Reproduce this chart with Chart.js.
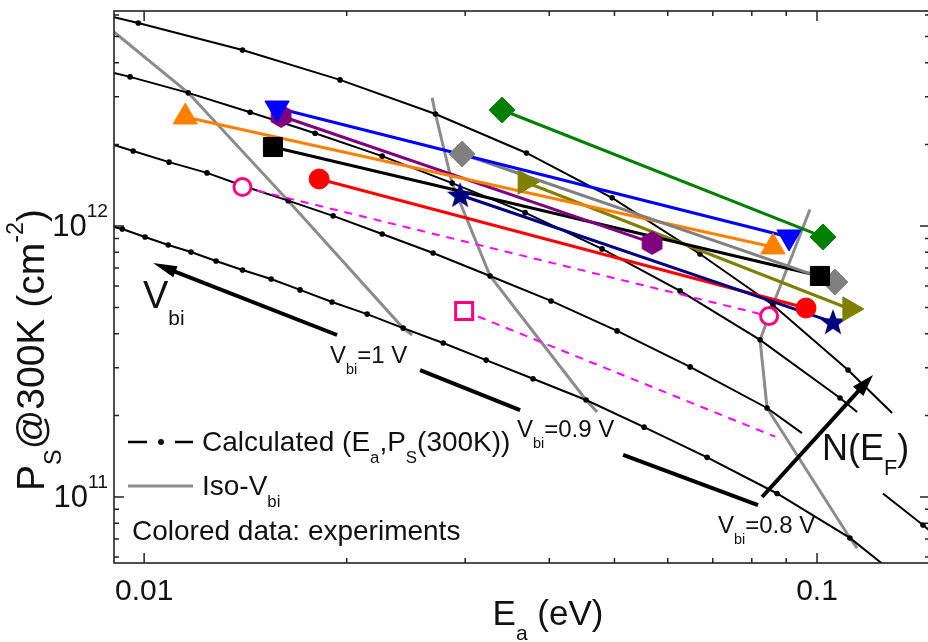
<!DOCTYPE html>
<html>
<head>
<meta charset="utf-8">
<script src="https://cdn.jsdelivr.net/npm/chart.js@4.4.1/dist/chart.umd.min.js"></script>
<style>
  html, body { margin: 0; padding: 0; background: #fff; overflow: hidden; }
  #wrap { width: 928px; height: 642px; overflow: hidden; }
</style>
</head>
<body>
<div id="wrap"><canvas id="chart" width="931" height="642"></canvas></div>
<script>
// axis ranges and tick labels
const eaRange = [0.00902, 0.1472];
const psRange = [5.706e10, 6.214e12];
const eaMajor = [0.01, 0.1];
const eaMajorLabels = ["0.01", "0.1"];
const psMajor = [1e11, 1e12];
const psMajorExp = ["11", "12"];

// calculated (Ea, Ps(300K)) curves
const calcA_Ea = [0.00902, 0.00980, 0.0140, 0.01955, 0.0271, 0.0370, 0.0496, 0.0670, 0.0860, 0.1112, 0.1293];
const calcA_Ps = [5.90e12, 5.61e12, 4.46e12, 3.46e12, 2.59e12, 1.86e12, 1.27e12, 7.88e11, 5.11e11, 2.94e11, 2.04e11];
const calcB_Ea = [0.00902, 0.00953, 0.01163, 0.01437, 0.01795, 0.02258, 0.02869, 0.03683, 0.04792, 0.06258, 0.08229, 0.1082, 0.1147];
const calcB_Ps = [3.67e12, 3.55e12, 3.10e12, 2.63e12, 2.20e12, 1.81e12, 1.44e12, 1.12e12, 8.23e11, 5.76e11, 3.80e11, 2.32e11, 2.06e11];
const calcC_Ea = [0.00902, 0.00963, 0.01089, 0.01240, 0.01422, 0.01637, 0.01909, 0.02258, 0.02688, 0.03267, 0.04025, 0.05045, 0.06477, 0.08428, 0.0950];
const calcC_Ps = [1.99e12, 1.89e12, 1.72e12, 1.57e12, 1.39e12, 1.24e12, 1.09e12, 9.34e11, 7.95e11, 6.54e11, 5.29e11, 4.10e11, 3.02e11, 2.13e11, 1.72e11];
const calcD_Ea = [0.00902, 0.00928, 0.01003, 0.01086, 0.01174, 0.01279, 0.0140, 0.01544, 0.01705, 0.01902, 0.02145, 0.02426, 0.02782, 0.03223, 0.03784, 0.04537, 0.05534, 0.06865, 0.08722, 0.1119, 0.1284];
const calcD_Ps = [9.92e11, 9.75e11, 9.11e11, 8.51e11, 8.02e11, 7.43e11, 6.88e11, 6.37e11, 5.81e11, 5.24e11, 4.73e11, 4.20e11, 3.70e11, 3.20e11, 2.73e11, 2.28e11, 1.81e11, 1.40e11, 1.03e11, 7.06e10, 5.38e10];
const calcE_Ea = [0.1253, 0.1437, 0.1497];
const calcE_Ps = [1.03e11, 7.88e10, 7.24e10];

// iso-Vbi lines
const iso1_Ea = [0.00902, 0.01163, 0.01637, 0.02426, 0.02502];
const iso1_Ps = [5.20e12, 3.10e12, 1.24e12, 4.20e11, 3.96e11];
const iso2_Ea = [0.02679, 0.0271, 0.02869, 0.03267, 0.04537, 0.04711];
const iso2_Ps = [2.97e12, 2.59e12, 1.44e12, 6.54e11, 2.28e11, 2.06e11];
const iso3_Ea = [0.0976, 0.0860, 0.08229, 0.08428, 0.1119, 0.1147];
const iso3_Ps = [1.15e12, 5.11e11, 3.80e11, 2.13e11, 7.06e10, 6.48e10];

// experiments: [Ea, Ps] start and end
const expOrange = [[0.01151, 2.525e12], [0.0860, 8.37e11]];
const expBlue = [[0.01576, 2.725e12], [0.09087, 9.11e11]];
const expPurple = [[0.01598, 2.547e12], [0.05687, 8.66e11]];
const expBlack = [[0.01554, 1.957e12], [0.1010, 6.54e11]];
const expRed = [[0.01820, 1.491e12], [0.09631, 4.98e11]];
const expPinkCircle = [[0.0140, 1.393e12], [0.08487, 4.65e11]];
const expGreen = [[0.03404, 2.679e12], [0.1021, 9.11e11]];
const expGray = [[0.02969, 1.843e12], [0.1063, 6.21e11]];
const expOlive = [[0.03683, 1.453e12], [0.1119, 4.94e11]];
const expNavy = [[0.02949, 1.301e12], [0.1056, 4.42e11]];
const expPinkSquare = [[0.02989, 4.86e11], [0.08662, 1.67e11]];

// arrows (data coords)
const vbiArrow = [[0.01935, 3.96e11], [0.01031, 7.30e11]];
const vbiSegs = [[[0.02571, 2.94e11], [0.03620, 2.09e11]], [[0.05150, 1.43e11], [0.08172, 9.34e10]]];
const nefArrow = [[0.08286, 1.0e11], [0.1211, 2.82e11]];

const FONT = "'Liberation Sans', Arial, sans-serif";

function pts(ea, ps) {
  return ea.map((x, i) => ({ x: x, y: ps[i] }));
}
function pairPts(p) {
  return p.map(v => ({ x: v[0], y: v[1] }));
}

function calcSet(ea, ps) {
  return {
    data: pts(ea, ps),
    showLine: true,
    borderColor: "#000",
    borderWidth: 2,
    pointRadius: ea.map((v, i) => (i === 0 || i === ea.length - 1) ? 0 : 2.8),
    pointBackgroundColor: "#000",
    pointBorderWidth: 0,
    order: 2
  };
}
function isoSet(ea, ps) {
  return {
    data: pts(ea, ps),
    showLine: true,
    borderColor: "#8c8c8c",
    borderWidth: 3,
    pointRadius: 0,
    order: 3
  };
}
function expLine(p, color, dashed) {
  return {
    data: pairPts(p),
    showLine: true,
    borderColor: color,
    borderWidth: dashed ? 2 : 3,
    borderDash: dashed ? [8, 7] : [],
    pointRadius: 0,
    order: 1
  };
}
function expMarks(p, style, r, color, extra) {
  return Object.assign({
    data: pairPts(p),
    showLine: false,
    pointStyle: style,
    pointRadius: r,
    pointRotation: 0,
    pointBackgroundColor: color,
    pointBorderColor: color,
    pointBorderWidth: 1,
    order: 0
  }, extra || {});
}

function hexagon(color) {
  const c = document.createElement("canvas");
  c.width = 26; c.height = 26;
  const g = c.getContext("2d");
  g.fillStyle = color;
  g.beginPath();
  for (let k = 0; k < 6; k++) {
    const a = -Math.PI / 2 + k * Math.PI / 3;
    g.lineTo(13 + 12 * Math.cos(a), 13 + 12 * Math.sin(a));
  }
  g.closePath();
  g.fill();
  return c;
}
function star(color) {
  const c = document.createElement("canvas");
  c.width = 30; c.height = 30;
  const g = c.getContext("2d");
  g.fillStyle = color;
  g.beginPath();
  for (let k = 0; k < 10; k++) {
    const a = -Math.PI / 2 + k * Math.PI / 5;
    const r = k % 2 === 0 ? 14 : 5.8;
    g.lineTo(15 + r * Math.cos(a), 16 + r * Math.sin(a));
  }
  g.closePath();
  g.fill();
  return c;
}

function rich(ctx, x, y, parts, size, align) {
  let w = 0;
  parts.forEach(p => { ctx.font = (size * p[1]) + "px " + FONT; w += ctx.measureText(p[0]).width; });
  let cx = align === "center" ? x - w / 2 : align === "right" ? x - w : x;
  parts.forEach(p => {
    ctx.font = (size * p[1]) + "px " + FONT;
    ctx.fillText(p[0], cx, y + p[2] * size);
    cx += ctx.measureText(p[0]).width;
  });
}

function arrowHead(ctx, x0, y0, x1, y1, len, half) {
  const a = Math.atan2(y1 - y0, x1 - x0);
  ctx.beginPath();
  ctx.moveTo(x1, y1);
  ctx.lineTo(x1 - len * Math.cos(a) + half * Math.sin(a), y1 - len * Math.sin(a) - half * Math.cos(a));
  ctx.lineTo(x1 - len * Math.cos(a) - half * Math.sin(a), y1 - len * Math.sin(a) + half * Math.cos(a));
  ctx.closePath();
  ctx.fill();
}

const overlay = {
  id: "overlay",
  afterDatasetsDraw(chart) {
    const ctx = chart.ctx;
    const a = chart.chartArea;
    const x = chart.scales.x, y = chart.scales.y;
    const P = v => [x.getPixelForValue(v[0]), y.getPixelForValue(v[1])];
    ctx.save();

    // thick arrows
    ctx.strokeStyle = "#000";
    ctx.fillStyle = "#000";
    ctx.lineWidth = 4;
    ctx.lineCap = "butt";
    let s = P(vbiArrow[0]), t = P(vbiArrow[1]);
    const ang = Math.atan2(t[1] - s[1], t[0] - s[0]);
    ctx.beginPath();
    ctx.moveTo(s[0], s[1]);
    ctx.lineTo(t[0] - 18 * Math.cos(ang), t[1] - 18 * Math.sin(ang));
    ctx.stroke();
    arrowHead(ctx, s[0], s[1], t[0], t[1], 24, 6);
    vbiSegs.forEach(seg => {
      const p0 = P(seg[0]), p1 = P(seg[1]);
      ctx.beginPath();
      ctx.moveTo(p0[0], p0[1]);
      ctx.lineTo(p1[0], p1[1]);
      ctx.stroke();
    });
    s = P(nefArrow[0]); t = P(nefArrow[1]);
    const ang2 = Math.atan2(t[1] - s[1], t[0] - s[0]);
    ctx.beginPath();
    ctx.moveTo(s[0], s[1]);
    ctx.lineTo(t[0] - 16 * Math.cos(ang2), t[1] - 16 * Math.sin(ang2));
    ctx.stroke();
    arrowHead(ctx, s[0], s[1], t[0], t[1], 22, 7);

    // frame
    ctx.strokeStyle = "#222";
    ctx.lineWidth = 1.6;
    ctx.strokeRect(a.left, a.top, a.right - a.left, a.bottom - a.top);

    // ticks, pointing inward
    ctx.lineWidth = 1.5;
    ctx.beginPath();
    for (let e = -3; e <= 0; e++) {
      for (let m = 1; m <= 9; m++) {
        const v = m * Math.pow(10, e);
        if (v < eaRange[0] || v > eaRange[1]) continue;
        const px = x.getPixelForValue(v);
        const len = m === 1 ? 10 : 5;
        ctx.moveTo(px, a.bottom); ctx.lineTo(px, a.bottom - len);
        ctx.moveTo(px, a.top); ctx.lineTo(px, a.top + len);
      }
    }
    for (let e = 10; e <= 12; e++) {
      for (let m = 1; m <= 9; m++) {
        const v = m * Math.pow(10, e);
        if (v < psRange[0] || v > psRange[1]) continue;
        const py = y.getPixelForValue(v);
        const len = m === 1 ? 10 : 5;
        ctx.moveTo(a.left, py); ctx.lineTo(a.left + len, py);
        ctx.moveTo(a.right, py); ctx.lineTo(a.right - len, py);
      }
    }
    ctx.stroke();

    // tick labels
    ctx.fillStyle = "#111";
    ctx.textBaseline = "alphabetic";
    eaMajor.forEach((v, i) => {
      rich(ctx, x.getPixelForValue(v), 600, [[eaMajorLabels[i], 1, 0]], 30, "center");
    });
    psMajor.forEach((v, i) => {
      const py = y.getPixelForValue(v);
      rich(ctx, a.left - 6, py + 10, [["10", 1, 0], [psMajorExp[i], 0.62, -0.6]], 31, "right");
    });

    // axis titles
    rich(ctx, 548, 625, [["E", 1, 0], ["a", 0.6, 0.43], [" (eV)", 1, 0]], 35, "center");
    ctx.save();
    ctx.translate(44, 350);
    ctx.rotate(-Math.PI / 2);
    rich(ctx, 0, 0, [["P", 1, 0], ["S", 0.6, 0.43], ["@300K (cm", 1, 0], ["-2", 0.6, -0.55], [")", 1, 0]], 39, "center");
    ctx.restore();

    // legend
    ctx.strokeStyle = "#000";
    ctx.lineWidth = 2.5;
    ctx.beginPath();
    ctx.moveTo(128, 442); ctx.lineTo(147, 442);
    ctx.moveTo(175, 442); ctx.lineTo(193, 442);
    ctx.stroke();
    ctx.beginPath();
    ctx.arc(161, 442, 3, 0, Math.PI * 2);
    ctx.fill();
    ctx.strokeStyle = "#8c8c8c";
    ctx.lineWidth = 3;
    ctx.beginPath();
    ctx.moveTo(128, 486); ctx.lineTo(193, 486);
    ctx.stroke();
    rich(ctx, 202, 451, [["Calculated (E", 1, 0], ["a", 0.6, 0.43], [",P", 1, 0], ["S", 0.6, 0.43], ["(300K))", 1, 0]], 28);
    rich(ctx, 202, 495, [["Iso-V", 1, 0], ["bi", 0.6, 0.43]], 28);
    rich(ctx, 132, 540, [["Colored data: experiments", 1, 0]], 28);

    // annotations
    rich(ctx, 143, 308, [["V", 1, 0], ["bi", 0.55, 0.45]], 38);
    rich(ctx, 330, 363, [["V", 1, 0], ["bi", 0.6, 0.45], ["=1 V", 1, 0]], 24);
    rich(ctx, 517, 437, [["V", 1, 0], ["bi", 0.6, 0.45], ["=0.9 V", 1, 0]], 24);
    rich(ctx, 718, 533, [["V", 1, 0], ["bi", 0.6, 0.45], ["=0.8 V", 1, 0]], 24);
    rich(ctx, 822, 460, [["N(E", 1, 0], ["F", 0.6, 0.43], [")", 1, 0]], 36);

    ctx.restore();
  }
};

new Chart(document.getElementById("chart"), {
  type: "scatter",
  data: {
    datasets: [
      isoSet(iso1_Ea, iso1_Ps),
      isoSet(iso2_Ea, iso2_Ps),
      isoSet(iso3_Ea, iso3_Ps),
      calcSet(calcA_Ea, calcA_Ps),
      calcSet(calcB_Ea, calcB_Ps),
      calcSet(calcC_Ea, calcC_Ps),
      calcSet(calcD_Ea, calcD_Ps),
      calcSet(calcE_Ea, calcE_Ps),
      expLine(expGreen, "#008000"),
      expLine(expBlue, "#0000ff"),
      expLine(expGray, "#808080"),
      expLine(expOrange, "#ff8000"),
      expLine(expPurple, "#800080"),
      expLine(expBlack, "#000000"),
      expLine(expOlive, "#808000"),
      expLine(expNavy, "#000080"),
      expLine(expRed, "#ff0000"),
      expLine(expPinkCircle, "#ff00ff", true),
      expLine(expPinkSquare, "#ff00ff", true),
      expMarks(expOrange, "triangle", 14, "#ff8000"),
      expMarks(expBlue, "triangle", 14, "#0000ff", { pointRotation: 180 }),
      expMarks(expPurple, hexagon("#800080"), 12, "#800080"),
      expMarks(expBlack, "rect", 13.5, "#000000"),
      expMarks(expRed, "circle", 10, "#ff0000"),
      expMarks(expPinkCircle, "circle", 8.5, "#ff0080", { pointBackgroundColor: "#fff", pointBorderWidth: 3 }),
      expMarks(expGreen, "rectRot", 13, "#008000"),
      expMarks(expGray, "rectRot", 13, "#808080"),
      expMarks(expOlive, "triangle", 14, "#808000", { pointRotation: 90 }),
      expMarks(expNavy, star("#000080"), 13, "#000080"),
      expMarks(expPinkSquare.slice(0, 1), "rect", 12, "#ff0080", { pointBackgroundColor: "#fff", pointBorderWidth: 3 })
    ]
  },
  options: {
    responsive: false,
    animation: false,
    devicePixelRatio: 1,
    layout: { autoPadding: false, padding: { left: 114, top: 11, right: 1, bottom: 79 } },
    plugins: { legend: { display: false }, tooltip: { enabled: false } },
    elements: { line: { tension: 0 } },
    scales: {
      x: { type: "logarithmic", min: eaRange[0], max: eaRange[1], bounds: "data", display: false },
      y: { type: "logarithmic", min: psRange[0], max: psRange[1], bounds: "data", display: false }
    }
  },
  plugins: [overlay]
});
</script>
</body>
</html>
